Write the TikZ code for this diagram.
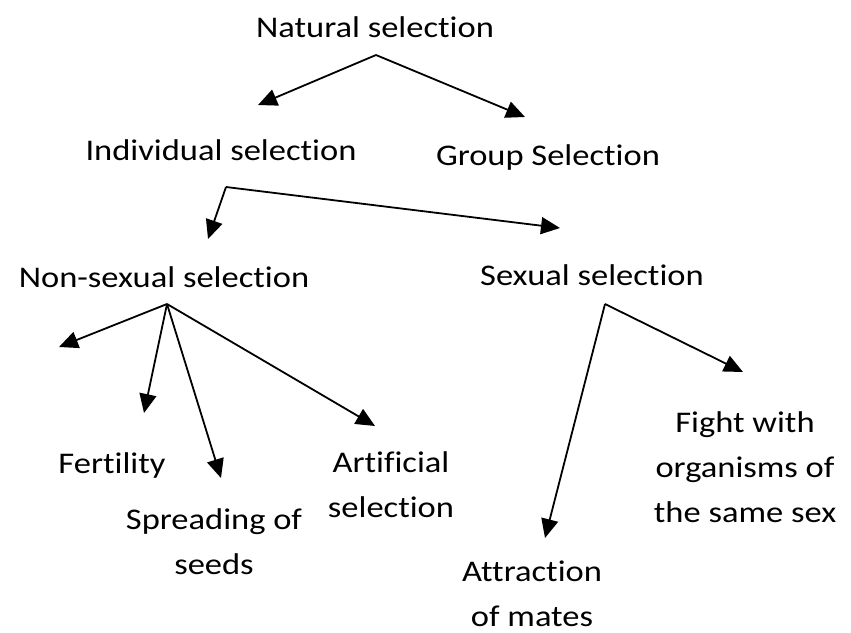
\documentclass[tikz,border=0pt]{standalone}
\usepackage{fontspec}
\setmainfont{Carlito}[FakeStretch=1.15, Ligatures=NoCommon]
\usepackage{tikz}
\usetikzlibrary{positioning,arrows.meta}
\newcommand{\selfont}{\fontsize{30}{45}\selectfont}

\begin{document}
\begin{tikzpicture}
  [
      x=1pt, y=-1pt,
      sel text/.style={anchor=base, align=center, inner sep=0pt, font=\selfont},
      my arrow/.style={-{Triangle[length=19pt, width=17pt]}, line width=1.8pt},
    ]
    \useasboundingbox (0,0) rectangle (851,632);

    % multi-line nodes sit on the baseline of their last line
    \node (nat)    [sel text] at (375,37)  {Natural selection};
    \node (ind)    [sel text] at (221,160) {Individual selection};
    \node (grp)    [sel text] at (548,165) {Group Selection};
    \node (nonsex) [sel text] at (164,287) {Non-sexual selection};
    \node (sex)    [sel text] at (592,285) {Sexual selection};
    \node (fert)   [sel text] at (112,473) {Fertility};
    \node (spread) [sel text] at (214,574) {Spreading of\\seeds};
    \node (artif)  [sel text] at (391,517) {Artificial\\selection};
    \node (attr)   [sel text] at (532,626) {Attraction\\of mates};
    \node (fight)  [sel text] at (745,522) {Fight with\\organisms of\\the same sex};

    % branching points and arrow tips
    \coordinate (natTop)    at (376,55);
    \coordinate (indTop)    at (226,187);
    \coordinate (nonsexTop) at (167,304);
    \coordinate (sexTop)    at (605,304);
    \coordinate (indTip)    at (258,105);
    \coordinate (grpTip)    at (525,117);
    \coordinate (nonsexTip) at (208,239);
    \coordinate (sexTip)    at (560,228);
    \coordinate (leftTip)   at (59,347);
    \coordinate (fertTip)   at (144,413);
    \coordinate (spreadTip) at (221,478);
    \coordinate (artifTip)  at (375,426);
    \coordinate (attrTip)   at (545,538);
    \coordinate (fightTip)  at (743,372);

    \foreach \i/\j in {natTop/indTip, natTop/grpTip, indTop/nonsexTip, indTop/sexTip,
                       nonsexTop/leftTip, nonsexTop/fertTip, nonsexTop/spreadTip,
                       nonsexTop/artifTip, sexTop/attrTip, sexTop/fightTip}
      \draw [my arrow] (\i) -- (\j);
  \end{tikzpicture}
\end{document}
